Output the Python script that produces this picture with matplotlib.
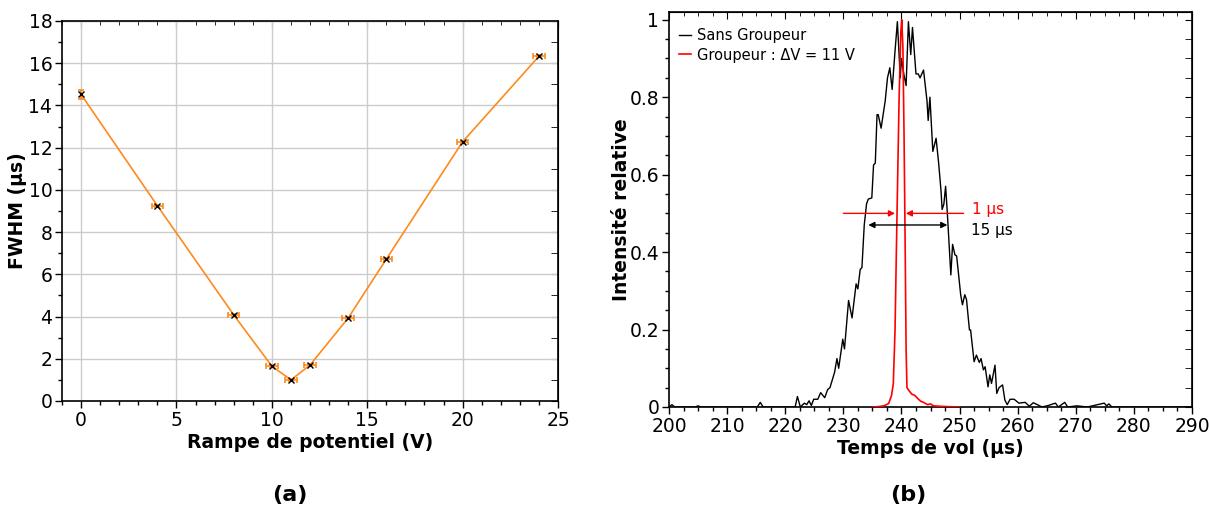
import matplotlib
matplotlib.use("Agg")
import matplotlib.pyplot as plt
from matplotlib.ticker import MultipleLocator, FuncFormatter

# ---------------- data (a) ----------------
ramp_v = [0, 4, 8, 10, 11, 12, 14, 16, 20, 24]
fwhm_us = [14.52, 9.25, 4.08, 1.65, 1.0, 1.70, 3.93, 6.72, 12.28, 16.33]
ramp_err = [0.0, 0.3, 0.3, 0.3, 0.3, 0.3, 0.3, 0.3, 0.3, 0.3]
fwhm_err = [0.22, 0.05, 0.05, 0.05, 0.05, 0.05, 0.05, 0.05, 0.05, 0.05]

# ---------------- data (b) ----------------
t_sans = [200, 200.5, 201, 204.5, 205, 205.5, 215.2, 215.7, 216.2, 221.7, 222.1, 222.6,
          223.3, 223.7, 224.1, 224.5, 224.9, 225.6, 226.1, 226.8, 227.3, 227.7, 228.1,
          228.5, 228.9, 229.2, 229.9, 230.2, 230.9, 231.5, 232.2, 232.5, 232.9, 233.2,
          233.6, 234.0, 234.3, 234.9, 235.2, 235.5, 235.8, 236.0, 236.5, 237.2, 237.6,
          238.0, 238.4, 238.9, 239.3, 239.8, 240.0, 240.4, 240.8, 241.2, 241.6, 241.9,
          242.5, 242.9, 243.2, 243.8, 244.4, 244.6, 244.9, 245.4, 245.96, 246.4, 246.8,
          247.0, 247.3, 247.6, 247.9, 248.5, 248.8, 249.2, 249.5, 250.2, 250.5, 250.9,
          251.2, 251.7, 251.9, 252.5, 252.9, 253.4, 253.7, 254.1, 254.4, 254.9, 255.2,
          255.5, 256.1, 256.4, 256.8, 257.4, 257.8, 258.2, 258.7, 259.4, 260.2, 261.3,
          262.0, 262.7, 264.2, 265.3, 266.5, 267.0, 268.1, 268.6, 270.2, 272.0, 274.9,
          275.3, 275.7, 276.2, 290]
v_sans = [0, 0.006, 0, 0, 0.003, 0, 0, 0.012, 0, 0, 0.027, 0.0,
          0.01, 0.006, 0.016, 0.004, 0.02, 0.02, 0.037, 0.024, 0.045, 0.05, 0.07,
          0.09, 0.125, 0.1, 0.175, 0.15, 0.275, 0.23, 0.318, 0.305, 0.355, 0.36,
          0.47, 0.525, 0.537, 0.54, 0.625, 0.63, 0.755, 0.755, 0.72, 0.79, 0.85,
          0.876, 0.82, 0.92, 0.995, 0.85, 0.9, 0.86, 0.83, 0.995, 0.91, 0.98,
          0.86, 0.86, 0.85, 0.87, 0.79, 0.74, 0.80, 0.66, 0.694, 0.63, 0.56,
          0.51, 0.524, 0.57, 0.5, 0.341, 0.42, 0.393, 0.39, 0.289, 0.264, 0.29,
          0.277, 0.199, 0.199, 0.117, 0.134, 0.115, 0.125, 0.096, 0.104, 0.052, 0.083,
          0.061, 0.108, 0.035, 0.05, 0.057, 0.018, 0.006, 0.02, 0.02, 0.01, 0.012,
          0.002, 0.011, 0.0, 0.004, 0.01, 0.0, 0.012, 0.0, 0.003, 0.0, 0.01,
          0.003, 0.008, 0.0, 0]

t_grp = [235, 236, 237, 237.8, 238.3, 238.6, 238.9, 239.1, 239.3, 239.6, 239.9, 240.05,
         240.25, 240.45, 240.65, 240.8, 240.95, 241.3, 241.8, 242.3, 242.8, 243.3, 243.8,
         244.5, 245, 245.5, 246.5, 248, 250]
v_grp = [0, 0.001, 0.003, 0.009, 0.03, 0.06, 0.2, 0.38, 0.55, 0.8, 0.97, 1.0,
         0.93, 0.7, 0.4, 0.15, 0.05, 0.042, 0.033, 0.03, 0.022, 0.015, 0.012,
         0.006, 0.008, 0.003, 0.002, 0.001, 0]

ORANGE = "#ff8a1c"
FS_TICK = 13.5
FS_LABEL = 13.5

plt.rcParams['font.family'] = ['DejaVu Sans']

fig = plt.figure(figsize=(12.09, 5.15), dpi=100)

def style_axes(ax, xmin, ymin):
    ax.xaxis.set_minor_locator(MultipleLocator(xmin))
    ax.yaxis.set_minor_locator(MultipleLocator(ymin))
    ax.tick_params(which='major', direction='out', length=5, width=1, labelsize=FS_TICK,
                   pad=2)
    ax.tick_params(which='minor', direction='out', length=3, width=1)
    for s in ax.spines.values():
        s.set_linewidth(1.2)
    top = ax.secondary_xaxis('top')
    top.xaxis.set_major_locator(ax.xaxis.get_major_locator())
    top.xaxis.set_minor_locator(MultipleLocator(xmin))
    top.tick_params(which='both', direction='in', labeltop=False)
    top.tick_params(which='major', length=5)
    top.tick_params(which='minor', length=3)
    right = ax.secondary_yaxis('right')
    right.yaxis.set_major_locator(ax.yaxis.get_major_locator())
    right.yaxis.set_minor_locator(MultipleLocator(ymin))
    right.tick_params(which='both', direction='in', labelright=False)
    right.tick_params(which='major', length=5)
    right.tick_params(which='minor', length=5)

# ---------------- panel (a) ----------------
ax1 = fig.add_axes([62/1209, (515-401)/515, 496/1209, 380/515])
ax1.plot(ramp_v, fwhm_us, color=ORANGE, lw=1.2, zorder=2)
ax1.errorbar(ramp_v, fwhm_us, xerr=ramp_err, yerr=fwhm_err, fmt='none',
             ecolor=ORANGE, elinewidth=1.2, capsize=2.5, capthick=1.2, zorder=3)
ax1.plot(ramp_v, fwhm_us, ls='none', marker='x', color='black', ms=4.5, mew=1.0, zorder=4)
ax1.set_xlim(-1, 25)
ax1.set_ylim(0, 18)
ax1.xaxis.set_major_locator(MultipleLocator(5))
ax1.yaxis.set_major_locator(MultipleLocator(2))
ax1.grid(True, which='major', color='#cccccc', lw=1.0)
ax1.set_axisbelow(True)
style_axes(ax1, 1, 1)
ax1.set_xlabel('Rampe de potentiel (V)', fontsize=FS_LABEL, fontweight='bold', labelpad=2)
ax1.set_ylabel('FWHM (µs)', fontsize=FS_LABEL, fontweight='bold')
ax1.yaxis.set_label_coords(-0.071, 0.5)

# ---------------- panel (b) ----------------
ax2 = fig.add_axes([669/1209, (515-407)/515, 523/1209, 395/515])
ax2.plot(t_sans, v_sans, color='black', lw=1.0, label='Sans Groupeur', zorder=2)
ax2.plot(t_grp, v_grp, color='red', lw=1.2, label='Groupeur : ΔV = 11 V', zorder=3)
ax2.set_xlim(200, 290)
ax2.set_ylim(0, 1.02)
ax2.xaxis.set_major_locator(MultipleLocator(10))
ax2.yaxis.set_major_locator(MultipleLocator(0.2))
ax2.yaxis.set_major_formatter(FuncFormatter(lambda v, p: f"{v:g}"))
style_axes(ax2, 2.5, 0.05)
ax2.set_xlabel('Temps de vol (µs)', fontsize=FS_LABEL, fontweight='bold', labelpad=2)
ax2.set_ylabel('Intensité relative', fontsize=FS_LABEL, fontweight='bold')
ax2.yaxis.set_label_coords(-0.072, 0.5)

leg = ax2.legend(loc='upper left', frameon=False, fontsize=10.5, handlelength=0.8,
                 handletextpad=0.4, borderaxespad=0.3, labelspacing=0.3,
                 bbox_to_anchor=(0.0, 0.985))

# annotations
ax2.annotate('', xy=(238.9, 0.5), xytext=(230.0, 0.5),
             arrowprops=dict(arrowstyle='-|>', color='red', lw=1.0, mutation_scale=9,
                             shrinkA=0, shrinkB=0))
ax2.annotate('', xy=(240.75, 0.5), xytext=(250.7, 0.5),
             arrowprops=dict(arrowstyle='-|>', color='red', lw=1.0, mutation_scale=9,
                             shrinkA=0, shrinkB=0))
ax2.annotate('', xy=(234.3, 0.47), xytext=(247.9, 0.47),
             arrowprops=dict(arrowstyle='<|-|>', color='black', lw=1.0, mutation_scale=9,
                             shrinkA=0, shrinkB=0))
ax2.text(252.2, 0.51, '1 µs', color='red', fontsize=11, va='center', ha='left')
ax2.text(251.9, 0.455, '15 µs', color='black', fontsize=11, va='center', ha='left')

fig.text(290/1209, 1 - 495/515, '(a)', fontsize=16, fontweight='bold', ha='center', va='center')
fig.text(908/1209, 1 - 495/515, '(b)', fontsize=16, fontweight='bold', ha='center', va='center')

fig.savefig('out.png', dpi=100)
